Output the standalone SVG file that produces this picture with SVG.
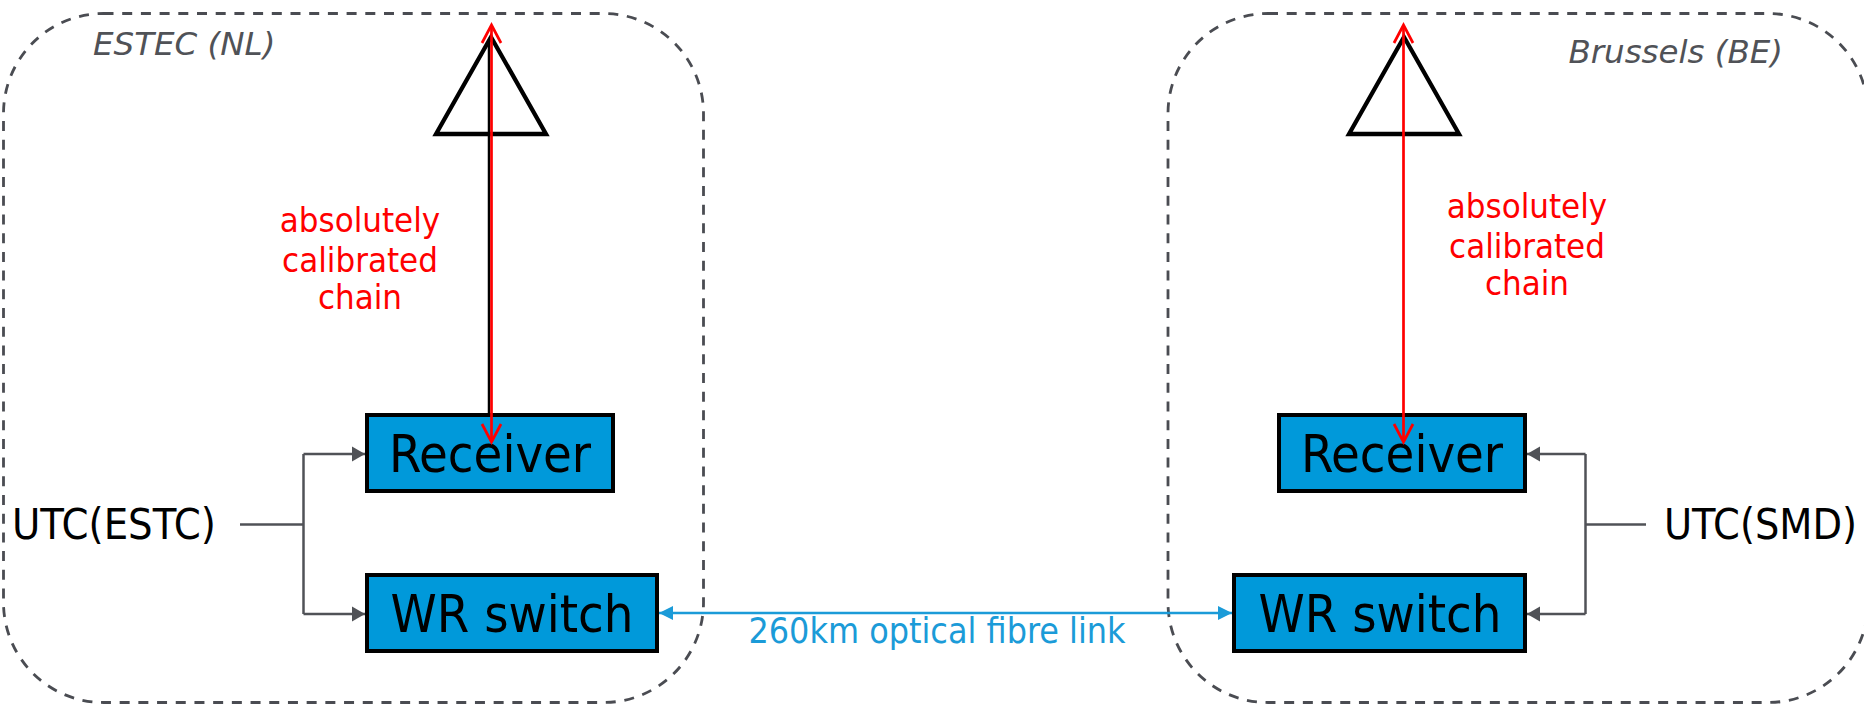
<svg xmlns="http://www.w3.org/2000/svg" width="1864" height="705" viewBox="0 0 1864 705">
<style>
.region{fill:none;stroke:#4a4c52;stroke-width:2.8;stroke-dasharray:10 8.7}
.site{font-family:"DejaVu Sans",Verdana,sans-serif;font-style:italic;font-size:32.5px;fill:#505257}
.box{fill:#0099da;stroke:#000;stroke-width:4}
.lbl{font-family:"DejaVu Sans Condensed","DejaVu Sans",sans-serif;font-stretch:condensed;font-size:52px;fill:#000;text-anchor:middle}
.utc{font-family:"DejaVu Sans Condensed","DejaVu Sans",sans-serif;font-stretch:condensed;font-size:43px;fill:#000}
.red{font-family:"DejaVu Sans Condensed","DejaVu Sans",sans-serif;font-stretch:condensed;font-size:34.5px;fill:#ff0000;text-anchor:middle}
.fib{font-family:"DejaVu Sans Condensed","DejaVu Sans",sans-serif;font-stretch:condensed;font-size:35.5px;fill:#1b9bd8;text-anchor:middle}
.ant{fill:none;stroke:#000;stroke-width:4.3;stroke-linejoin:miter}
.g{fill:none;stroke:#505257;stroke-width:2.5}
.r{fill:none;stroke:#ff0000;stroke-width:2.7}
.b{fill:none;stroke:#1b9bd8;stroke-width:2.5}
</style>
<defs>
<marker id="redOpen" markerUnits="userSpaceOnUse" markerWidth="24" markerHeight="24" viewBox="-20 -12 24 24" refX="0" refY="0" orient="auto-start-reverse" overflow="visible">
<path d="M-18,-9.5 L0,0 L-18,9.5" fill="none" stroke="#ff0000" stroke-width="2.7"/>
</marker>
<marker id="grayHead" markerUnits="userSpaceOnUse" markerWidth="16" markerHeight="16" viewBox="-14 -8 16 16" refX="0" refY="0" orient="auto-start-reverse" overflow="visible">
<path d="M-13,-7.5 L0,0 L-13,7.5 Z" fill="#505257"/>
</marker>
<marker id="blueHead" markerUnits="userSpaceOnUse" markerWidth="18" markerHeight="18" viewBox="-16 -8 18 16" refX="0" refY="0" orient="auto-start-reverse" overflow="visible">
<path d="M-14,-7 L0,0 L-14,7 Z" fill="#1b9bd8"/>
</marker>
</defs>

<g id="site-estec">
<rect class="region" x="3.5" y="13.5" width="700" height="689" rx="100" ry="100"/>
<text class="site" x="93" y="55">ESTEC (NL)</text>
</g>
<g id="site-brussels">
<rect class="region" x="1168" y="13.5" width="700" height="689" rx="100" ry="100"/>
<text class="site" x="1783" y="63" text-anchor="end">Brussels (BE)</text>
</g>

<g id="antenna-estec">
<path class="ant" d="M491,37 L436,134 L546,134 Z"/>
<line x1="489" y1="40" x2="489" y2="415" stroke="#000" stroke-width="2.5"/>
</g>
<g id="antenna-brussels">
<path class="ant" d="M1404,37 L1349,134 L1459,134 Z"/>
</g>

<g id="receiver-estec">
<rect class="box" x="367" y="415" width="246" height="76"/>
<text class="lbl" x="490" y="472">Receiver</text>
</g>
<g id="wrswitch-estec">
<rect class="box" x="367" y="575" width="290" height="76"/>
<text class="lbl" x="512" y="632">WR switch</text>
</g>
<g id="receiver-brussels">
<rect class="box" x="1279" y="415" width="246" height="76"/>
<text class="lbl" x="1402" y="472">Receiver</text>
</g>
<g id="wrswitch-brussels">
<rect class="box" x="1234" y="575" width="291" height="76"/>
<text class="lbl" x="1380" y="632">WR switch</text>
</g>

<g id="utc-estc"><text class="utc" x="12" y="539" textLength="204" lengthAdjust="spacingAndGlyphs">UTC(ESTC)</text></g>
<g id="utc-smd"><text class="utc" x="1664" y="539" textLength="193" lengthAdjust="spacingAndGlyphs">UTC(SMD)</text></g>

<g id="chain-labels">
<text class="red" x="360" y="232">absolutely</text>
<text class="red" x="360" y="272">calibrated</text>
<text class="red" x="360" y="309">chain</text>
<text class="red" x="1527" y="218">absolutely</text>
<text class="red" x="1527" y="258">calibrated</text>
<text class="red" x="1527" y="295">chain</text>
</g>

<g id="connectors">
<line class="r" x1="491.5" y1="442" x2="491.5" y2="25" marker-start="url(#redOpen)" marker-end="url(#redOpen)"/>
<line class="r" x1="1403.5" y1="442" x2="1403.5" y2="25" marker-start="url(#redOpen)" marker-end="url(#redOpen)"/>
<path class="g" d="M240,524.5 L303.5,524.5"/>
<path class="g" d="M303.5,454 L303.5,614" />
<path class="g" d="M303.5,454 L365,454" marker-end="url(#grayHead)"/>
<path class="g" d="M303.5,614 L365,614" marker-end="url(#grayHead)"/>
<path class="g" d="M1646,524.5 L1585.5,524.5"/>
<path class="g" d="M1585.5,454 L1585.5,614"/>
<path class="g" d="M1585.5,454 L1527,454" marker-end="url(#grayHead)"/>
<path class="g" d="M1585.5,614 L1527,614" marker-end="url(#grayHead)"/>
<line class="b" x1="659" y1="613" x2="1232" y2="613" marker-start="url(#blueHead)" marker-end="url(#blueHead)"/>
<text class="fib" x="937" y="643">260km optical fibre link</text>
</g>
</svg>
